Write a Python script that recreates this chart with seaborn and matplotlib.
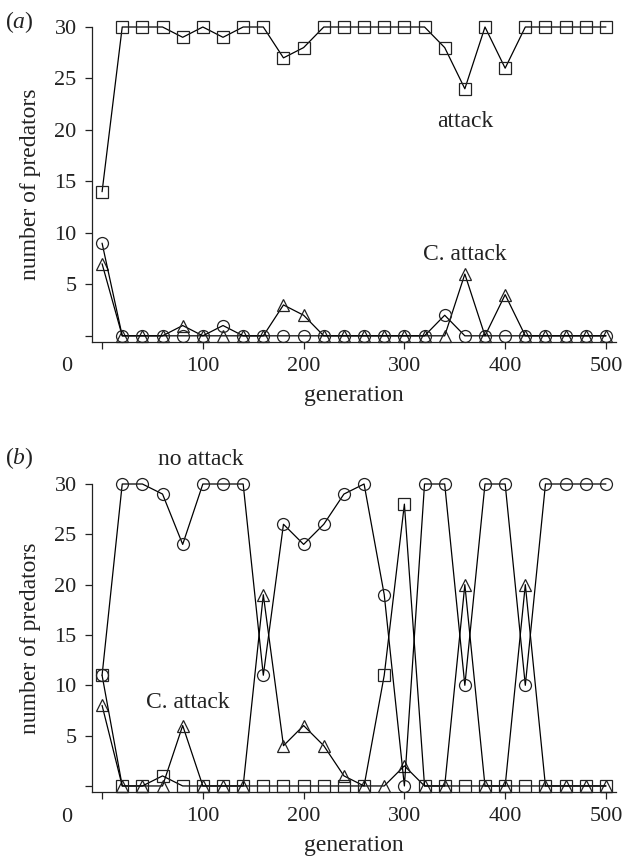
import matplotlib
matplotlib.use("Agg")
import matplotlib.pyplot as plt
import seaborn as sns
import numpy as np

# ---------------- data ----------------
generations = list(range(0, 501, 20))

# panel (a)
a_attack = [14, 30, 30, 30, 29, 30, 29, 30, 30, 27, 28, 30, 30, 30, 30, 30, 30, 28, 24, 30, 26, 30, 30, 30, 30, 30]
a_no_attack = [9, 0, 0, 0, 0, 0, 1, 0, 0, 0, 0, 0, 0, 0, 0, 0, 0, 2, 0, 0, 0, 0, 0, 0, 0, 0]
a_c_attack = [7, 0, 0, 0, 1, 0, 0, 0, 0, 3, 2, 0, 0, 0, 0, 0, 0, 0, 6, 0, 4, 0, 0, 0, 0, 0]

# panel (b)
b_attack = [11, 0, 0, 1, 0, 0, 0, 0, 0, 0, 0, 0, 0, 0, 11, 28, 0, 0, 0, 0, 0, 0, 0, 0, 0, 0]
b_no_attack = [11, 30, 30, 29, 24, 30, 30, 30, 11, 26, 24, 26, 29, 30, 19, 0, 30, 30, 10, 30, 30, 10, 30, 30, 30, 30]
b_c_attack = [8, 0, 0, 0, 6, 0, 0, 0, 19, 4, 6, 4, 1, 0, 0, 2, 0, 0, 20, 0, 0, 20, 0, 0, 0, 0]

y_ticks = [0, 5, 10, 15, 20, 25, 30]
y_ticklabels = ["", "5", "10", "15", "20", "25", "30"]
x_ticks = [0, 100, 200, 300, 400, 500]
x_ticklabels = ["", "100", "200", "300", "400", "500"]

# ---------------- style ----------------
sns.set_theme(style="ticks")
plt.rcParams["font.family"] = ["Liberation Serif", "DejaVu Serif"]
plt.rcParams["mathtext.fontset"] = "custom"
plt.rcParams["mathtext.rm"] = "Liberation Serif"
plt.rcParams["mathtext.it"] = "Liberation Serif:italic"

W, H = 625, 863
fig = plt.figure(figsize=(W / 100, H / 100), dpi=100)
fig.patch.set_facecolor("white")


def px_axes(left, top, right, bottom):
    return fig.add_axes([left / W, 1 - bottom / H, (right - left) / W, (bottom - top) / H])


ax_a = px_axes(92, 27, 616, 342)
ax_b = px_axes(92, 484, 616, 792)

line_kw = dict(color="black", linewidth=0.9, markersize=8.6, markerfacecolor="none",
               markeredgecolor="#222222", markeredgewidth=0.9, clip_on=False)


def draw(ax, attack, no_attack, c_attack):
    sns.lineplot(x=generations, y=c_attack, ax=ax, marker="^", **line_kw)
    sns.lineplot(x=generations, y=no_attack, ax=ax, marker="o", **line_kw)
    sns.lineplot(x=generations, y=attack, ax=ax, marker="s", **line_kw)
    ax.set_xlim(-10, 510)
    ax.set_ylim(-0.6, 30)
    ax.set_yticks(y_ticks)
    ax.set_yticklabels(y_ticklabels)
    ax.set_xticks(x_ticks)
    ax.set_xticklabels(x_ticklabels)
    ax.tick_params(direction="out", length=5, width=0.9, labelsize=16, colors="#222222",
                   labelcolor="#222222", pad=6)
    for s in ["top", "right"]:
        ax.spines[s].set_visible(False)
    for s in ["left", "bottom"]:
        ax.spines[s].set_linewidth(0.9)
        ax.spines[s].set_color("#222222")
    ax.set_xlabel("generation", fontsize=17, color="#222222", labelpad=6)
    ax.set_ylabel("number of predators", fontsize=17, color="#222222", labelpad=10)
    ax.set_facecolor("white")
    ax.grid(False)


draw(ax_a, a_attack, a_no_attack, a_c_attack)
draw(ax_b, b_attack, b_no_attack, b_c_attack)

# annotations
ax_a.text(360, 20.8, "attack", fontsize=17, ha="center", va="center", color="#222222")
ax_a.text(360, 7.9, "C. attack", fontsize=17, ha="center", va="center", color="#222222")
ax_b.text(98, 32.4, "no attack", fontsize=17, ha="center", va="center", color="#222222")
ax_b.text(85, 8.3, "C. attack", fontsize=17, ha="center", va="center", color="#222222")

# corner zero labels and panel letters
fig.text(72 / W, 1 - 366 / H, "0", fontsize=16, ha="right", va="center", color="#222222")
fig.text(72 / W, 1 - 817 / H, "0", fontsize=16, ha="right", va="center", color="#222222")
fig.text(19 / W, 1 - 22 / H, r"($\mathit{a}$)", fontsize=17, ha="center", va="center", color="#222222")
fig.text(19 / W, 1 - 458 / H, r"($\mathit{b}$)", fontsize=17, ha="center", va="center", color="#222222")

fig.savefig("out.png", dpi=100, facecolor="white")
